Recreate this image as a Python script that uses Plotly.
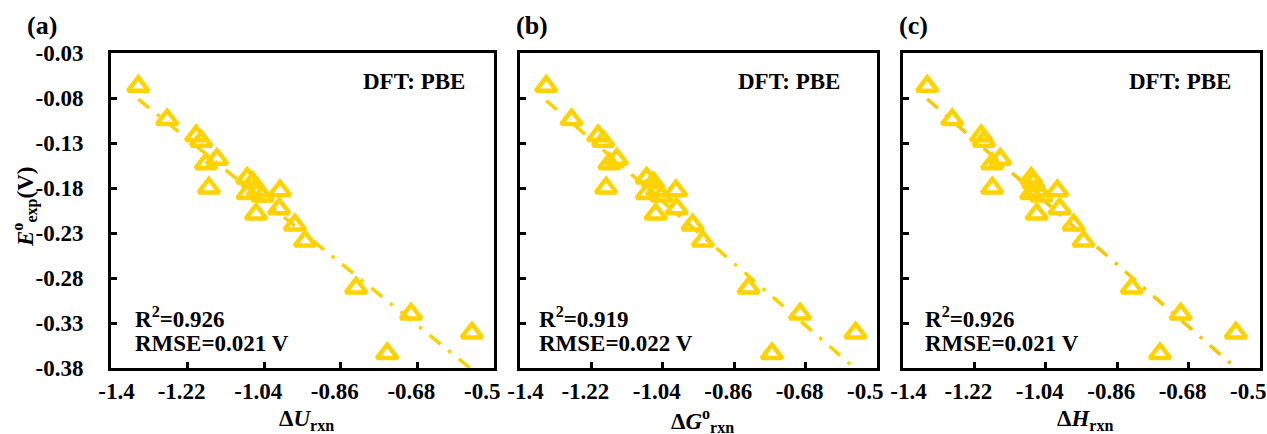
import numpy as np
import plotly.graph_objects as go

# ---- data ----
e_exp = [-0.067, -0.104, -0.122, -0.128, -0.153, -0.148, -0.180, -0.169, -0.174, -0.186, -0.183,
         -0.189, -0.209, -0.183, -0.203, -0.221, -0.239, -0.291, -0.320, -0.341, -0.364]
dU = [-1.336, -1.268, -1.200, -1.188, -1.177, -1.151, -1.170, -1.080, -1.067, -1.079, -1.055,
      -1.044, -1.059, -1.003, -1.005, -0.968, -0.944, -0.824, -0.695, -0.552, -0.751]
dG = [-1.334, -1.270, -1.203, -1.190, -1.175, -1.156, -1.183, -1.081, -1.064, -1.080, -1.055,
      -1.043, -1.058, -1.007, -1.005, -0.965, -0.939, -0.824, -0.694, -0.554, -0.765]
dH = [-1.339, -1.276, -1.203, -1.196, -1.175, -1.155, -1.175, -1.077, -1.072, -1.077, -1.060,
      -1.051, -1.063, -1.011, -1.005, -0.970, -0.945, -0.823, -0.700, -0.561, -0.752]

x_tick_vals = [-1.4, -1.22, -1.04, -0.86, -0.68, -0.5]
x_tick_text = ["-1.4", "-1.22", "-1.04", "-0.86", "-0.68", "-0.5"]
y_tick_vals = [-0.38, -0.33, -0.28, -0.23, -0.18, -0.13, -0.08, -0.03]
y_tick_text = ["-0.38", "-0.33", "-0.28", "-0.23", "-0.18", "-0.13", "-0.08", "-0.03"]

panel_letters = ["(a)", "(b)", "(c)"]
x_titles = ["<b>Δ<i>U</i><sub>rxn</sub></b>", "<b>Δ<i>G</i><sup>o</sup><sub>rxn</sub></b>",
            "<b>Δ<i>H</i><sub>rxn</sub></b>"]
r2_texts = ["R<sup>2</sup>=0.926", "R<sup>2</sup>=0.919", "R<sup>2</sup>=0.926"]
rmse_texts = ["RMSE=0.021 V", "RMSE=0.022 V", "RMSE=0.021 V"]
method_text = "DFT: PBE"

W, H = 1267, 434
FONT = "Liberation Serif"
YEL = "#FFD200"
LINE_YEL = ["#FFD000", "#FFD000", "#FFC400"]

# panel pixel boxes (left, right)
boxes = [(111, 494), (520, 877), (903, 1260)]
top_px, bot_px = 53, 368

def px_x(p):
    return p / W

def px_y(p):
    return 1 - p / H

NB = "\u00a0"

def xlab(t, j, n):
    if j == 0:
        t = NB * 4 + t
    elif j == n - 1:
        t = t + NB * 2
    return "<b>" + t + "</b>"

fig = go.Figure()
xs_all = [dU, dG, dH]
for i, xs in enumerate(xs_all):
    ax = "" if i == 0 else str(i + 1)
    k, b = np.polyfit(xs, e_exp, 1)
    xl = np.array([min(xs), max(xs)])
    fig.add_trace(go.Scatter(x=xl, y=k * xl + b, mode="lines",
                             line=dict(color=LINE_YEL[i], width=3.5, dash="14px,10px,3.5px,10px"),
                             xaxis="x" + ax, yaxis="y" + ax, showlegend=False, hoverinfo="skip"))
    fig.add_trace(go.Scatter(x=xs, y=e_exp, mode="markers",
                             marker=dict(symbol="triangle-up-open", size=18, color=YEL,
                                         line=dict(color=YEL, width=4.5)),
                             xaxis="x" + ax, yaxis="y" + ax, showlegend=False))

layout = dict(width=W, height=H, margin=dict(l=0, r=0, t=0, b=0, autoexpand=False),
              paper_bgcolor="white", plot_bgcolor="white",
              font=dict(family=FONT, size=23, color="black"), showlegend=False)

annotations = []
for i, (l, r) in enumerate(boxes):
    ax = "" if i == 0 else str(i + 1)
    n = len(x_tick_text)
    xa = dict(domain=[px_x(l), px_x(r)], range=[-1.4, -0.5], tickmode="array",
              tickvals=x_tick_vals, ticktext=[xlab(t, j, n) for j, t in enumerate(x_tick_text)],
              showgrid=False, zeroline=False, automargin=False, ticklabeloverflow="allow",
              showline=True, linewidth=3, linecolor="black", mirror=True,
              ticks="inside", ticklen=6, tickwidth=3, tickcolor="black",
              tickfont=dict(family=FONT, size=23, color="black"), ticklabelstandoff=0,
              ticklabelshift=-6, anchor="y" + ax)
    ya = dict(domain=[px_y(bot_px), px_y(top_px)], range=[-0.38, -0.03], tickmode="array",
              tickvals=y_tick_vals, ticktext=["<b>" + t + "</b>" for t in y_tick_text],
              showgrid=False, zeroline=False, automargin=False, ticklabeloverflow="allow",
              showline=True, linewidth=3, linecolor="black", mirror=True,
              ticks="inside", ticklen=6, tickwidth=3, tickcolor="black",
              tickfont=dict(family=FONT, size=23, color="black"), ticklabelstandoff=20,
              showticklabels=(i == 0), anchor="x" + ax)
    layout["xaxis" + ax] = xa
    layout["yaxis" + ax] = ya

    annotations.append(dict(text="<b>" + panel_letters[i] + "</b>", xref="paper", yref="paper",
                            x=px_x(l - 86 if i == 0 else l - 6), y=px_y(26), xanchor="left",
                            yanchor="middle", showarrow=False, font=dict(size=26)))
    dft_right = [467, 842, 1233][i]
    annotations.append(dict(text="<b>" + method_text + "</b>", xref="paper", yref="paper",
                            x=px_x(dft_right), y=px_y(81), xanchor="right", yanchor="middle",
                            showarrow=False, font=dict(size=23)))
    left_txt = [133, 537, 923][i]
    annotations.append(dict(text="<b>" + r2_texts[i] + "</b>", xref="paper", yref="paper",
                            x=px_x(left_txt), y=px_y(317), xanchor="left", yanchor="middle",
                            showarrow=False, font=dict(size=23)))
    annotations.append(dict(text="<b>" + rmse_texts[i] + "</b>", xref="paper", yref="paper",
                            x=px_x(left_txt), y=px_y(343), xanchor="left", yanchor="middle",
                            showarrow=False, font=dict(size=23)))
    annotations.append(dict(text=x_titles[i], xref="paper", yref="paper",
                            x=px_x((l + r) / 2 + 4), y=px_y(420), xanchor="center",
                            yanchor="middle", showarrow=False, font=dict(size=23)))

annotations.append(dict(text="<b><i>E</i><sup>o</sup><sub>exp</sub>(V)</b>", xref="paper",
                        yref="paper", x=px_x(25), y=px_y(207), xanchor="center",
                        yanchor="middle", textangle=-90, showarrow=False, font=dict(size=23)))
layout["annotations"] = annotations
fig.update_layout(**layout)
fig.write_html("out.html")
